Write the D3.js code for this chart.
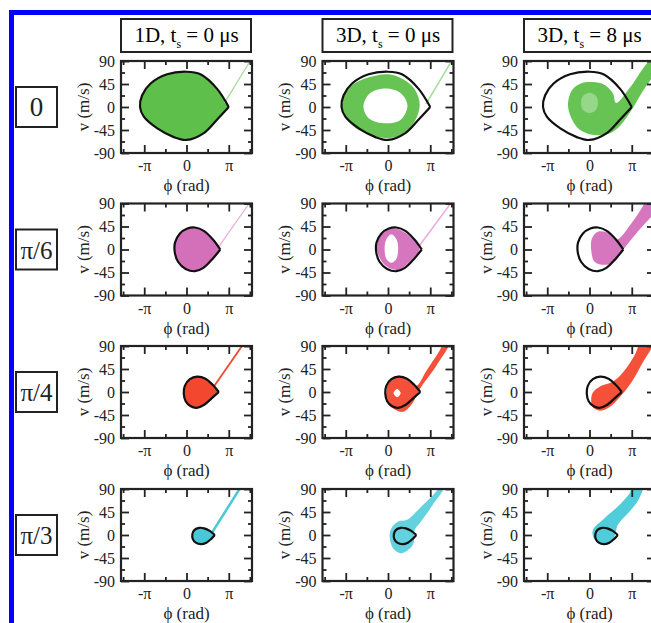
<!DOCTYPE html>
<html>
<head>
<meta charset="utf-8">
<script src="https://cdn.jsdelivr.net/npm/d3@7"></script>
<style>
	body { margin: 0; background: #fff; }
	svg { display: block; font-family: "Liberation Serif", "Times New Roman", serif; }
</style>
</head>
<body>
<script>
// rows = tilt of the washboard, columns = model / start time
const rowLabels = ['0', 'π/6', 'π/4', 'π/3'];
const titleHead = ['1D, t', '3D, t', '3D, t'];
const titleTail = [' = 0 μs', ' = 0 μs', ' = 8 μs'];
const rowColors = ['#5ec04b', '#d46fba', '#f4472f', '#48c9d8'];
const rowLight = ['#a3dc96', '#e9acd9', '#f7806f', '#7fd8e3'];

// phase in units of pi, velocity in m/s
const xMajorTicks = [-1, 0, 1];
const xMinorTicks = [-1.5, -0.5, 0.5, 1.5];
const xTickLabels = ['-π', '0', 'π'];
const yMajorTicks = [-90, -45, 0, 45, 90];
const yMinorTicks = [-67.5, -22.5, 22.5, 67.5];

// separatrix, starts and ends at the cusp
const separatrix = [
	[[1.0, 0], [0.72, 36], [0.33, 64], [0, 69], [-0.46, 64], [-0.85, 46], [-1.05, 23], [-1.10, 0], [-1.01, -19], [-0.69, -42], [-0.30, -59], [0, -64.5], [0.41, -51], [0.72, -25], [1.0, 0]],
	[[0.80, 0], [0.62, 20], [0.42, 36], [0.2, 43], [0.02, 41], [-0.16, 31], [-0.27, 14], [-0.28, -4], [-0.2, -24], [-0.02, -38], [0.2, -42.5], [0.4, -36], [0.62, -18], [0.80, 0]],
	[[0.765, 0], [0.62, 14], [0.45, 26], [0.25, 30], [0.08, 25], [-0.04, 12], [-0.065, -3], [-0.02, -18], [0.1, -28], [0.24, -31], [0.42, -25], [0.6, -12], [0.765, 0]],
	[[0.67, 0], [0.55, 8], [0.42, 13], [0.3, 14], [0.19, 10], [0.14, 2], [0.15, -8], [0.22, -15], [0.34, -18], [0.47, -15], [0.58, -8], [0.67, 0]]
];

// 1D: escaping trajectory leaving near the cusp
const escape1D = [
	[[0.9, 8], [1.52, 92]],
	[[0.76, 5], [1.5, 92]],
	[[0.64, 10], [1.33, 92]],
	[[0.6, 4], [1.27, 92]]
];
const escapeWidth = [1.2, 1.2, 1.8, 2.5];

// 3D, ts = 0 us
const cloud3D0 = [
	[[0, 64], [0.35, 55], [0.62, 36], [0.75, 5], [0.62, -30], [0.35, -53], [0, -61], [-0.4, -55], [-0.8, -39], [-1.07, -10], [-1.07, 15], [-0.87, 41], [-0.45, 58]],
	[[-0.26, 0.3], [-0.16, 28.4], [0.12, 41.4], [0.43, 31.7], [0.67, 12], [0.75, 0.3], [0.55, -20.5], [0.24, -40], [-0.08, -30]],
	[[-0.04, -1], [0.04, 23.8], [0.28, 31.7], [0.51, 21.9], [0.67, 12], [0.91, 41.5], [1.22, 80.6], [1.32, 96], [1.45, 96], [1.14, 51], [0.75, 5.5], [0.59, -20.5], [0.355, -38.8], [0.08, -30], [-0.04, -17]],
	[[0.08, 13.3], [0.24, 26.4], [0.45, 29.7], [0.75, 52.4], [1.14, 85], [1.21, 96], [1.34, 96], [1.06, 59], [0.75, 23], [0.63, 10], [0.59, -19], [0.32, -35.6], [0.12, -25.8], [0.04, -3]]
];
const hole3D0 = [
	[[-0.05, 36], [0.3, 27], [0.46, 3], [0.3, -25], [-0.05, -32], [-0.44, -23], [-0.58, 0], [-0.44, 26]],
	[[0.08, 30], [0.2, 20], [0.24, 2], [0.2, -18], [0.08, -26], [-0.04, -18], [-0.08, 2], [-0.04, 20]],
	[[0.22, 6], [0.3, -2], [0.22, -10], [0.13, -2]],
	[]
];
const escape3D0 = [
	[[0.9, 6], [1.52, 92]],
	[[0.72, 5], [1.5, 92]],
	[],
	[]
];

// 3D, ts = 8 us
const cloud3D8 = [
	[[-0.04, 48.9], [0.32, 45], [0.55, 27.4], [0.63, 7.8], [0.95, 37], [1.22, 70], [1.38, 88], [1.45, 96], [1.6, 96], [1.6, 76], [1.26, 30.7], [0.95, -11.7], [0.67, -41], [0.43, -52.8], [0.12, -55], [-0.24, -44], [-0.43, -21.5], [-0.51, 4.5], [-0.43, 30.7], [-0.27, 43.6]],
	[[0.2, 34.8], [0.47, 31.7], [0.63, 18.6], [0.99, 51], [1.26, 84], [1.34, 96], [1.6, 96], [1.6, 80.6], [1.14, 34.8], [0.79, -1], [0.59, -23.8], [0.35, -30], [0.12, -23.8], [0.04, -1], [0.06, 21.9]],
	[[0.04, -17.3], [0.08, -1], [0.28, 12], [0.55, 20], [0.79, 38], [1.06, 70.8], [1.22, 96], [1.5, 96], [1.26, 57.7], [0.99, 18.6], [0.71, -10.8], [0.47, -30], [0.24, -36.8], [0.08, -30]],
	[[0.08, 10], [0.355, 33], [0.67, 55.8], [0.95, 81.8], [1.03, 96], [1.26, 96], [1.18, 72], [0.95, 46], [0.67, 20], [0.59, -3], [0.43, -16], [0.24, -17], [0.10, -6]]
];
const hole3D8 = [
	[[0, 28], [0.15, 22], [0.2, 8], [0.15, -6], [0, -12], [-0.15, -6], [-0.2, 8], [-0.15, 22]],
	[], [], []
];

const colLeft = [121, 322.5, 524];
const rowTop = [61, 203.5, 346, 489];
const plotW = 131, plotH = 92;

const svg = d3.select('body').append('svg')
	.attr('width', 651)
	.attr('height', 623);

svg.append('rect')
	.attr('x', 11.5).attr('y', 12.5)
	.attr('width', 720).attr('height', 700)
	.attr('fill', 'none')
	.attr('stroke', '#0000ff')
	.attr('stroke-width', 5);

const x = d3.scaleLinear().domain([-1.55, 1.55]).range([0, plotW]);
const y = d3.scaleLinear().domain([-90, 90]).range([plotH, 0]);

const closed = d3.line().x(d => x(d[0])).y(d => y(d[1])).curve(d3.curveCatmullRomClosed.alpha(0.5));
const open = d3.line().x(d => x(d[0])).y(d => y(d[1])).curve(d3.curveCatmullRom.alpha(0.5));
const straight = d3.line().x(d => x(d[0])).y(d => y(d[1]));

// column titles
titleHead.forEach((head, c) => {
	let g = svg.append('g').attr('transform', `translate(${colLeft[c]},19)`);
	g.append('rect')
		.attr('width', plotW - 1).attr('height', 33)
		.attr('fill', '#fff').attr('stroke', '#222').attr('stroke-width', 2);
	let t = g.append('text')
		.attr('x', plotW / 2).attr('y', 23)
		.attr('text-anchor', 'middle')
		.attr('font-size', 21);
	t.append('tspan').text(head);
	t.append('tspan').attr('dy', 6).attr('font-size', 12).text('s');
	t.append('tspan').attr('dy', -6).text(titleTail[c]);
});

function drawAxes(g) {
	let style = sel => {
		sel.select('.domain').remove();
		sel.attr('font-family', null).attr('font-size', 16);
		sel.selectAll('line').attr('stroke', '#222').attr('stroke-width', 1.8);
		sel.selectAll('text').attr('fill', '#222');
	};
	let bottom = g.append('g').attr('transform', `translate(0,${plotH})`);
	bottom.call(d3.axisBottom(x).tickValues(xMinorTicks).tickSize(-4).tickFormat('')).call(style);
	bottom.append('g').call(d3.axisBottom(x).tickValues(xMajorTicks).tickSize(-8).tickPadding(7)
		.tickFormat(d => xTickLabels[xMajorTicks.indexOf(d)])).call(style);
	let top = g.append('g');
	top.call(d3.axisTop(x).tickValues(xMinorTicks).tickSize(-4).tickFormat('')).call(style);
	top.append('g').call(d3.axisTop(x).tickValues(xMajorTicks).tickSize(-8).tickFormat('')).call(style);
	let left = g.append('g');
	left.call(d3.axisLeft(y).tickValues(yMinorTicks).tickSize(-4).tickFormat('')).call(style);
	left.append('g').call(d3.axisLeft(y).tickValues(yMajorTicks).tickSize(-8).tickPadding(6)
		.tickFormat(d => String(d))).call(style);
	let right = g.append('g').attr('transform', `translate(${plotW},0)`);
	right.call(d3.axisRight(y).tickValues(yMinorTicks).tickSize(-4).tickFormat('')).call(style);
	right.append('g').call(d3.axisRight(y).tickValues(yMajorTicks).tickSize(-8).tickFormat('')).call(style);

	g.append('rect')
		.attr('width', plotW).attr('height', plotH)
		.attr('fill', 'none').attr('stroke', '#222').attr('stroke-width', 2.2);

	g.append('text')
		.attr('x', plotW / 2).attr('y', plotH + 38)
		.attr('text-anchor', 'middle')
		.attr('font-size', 17).attr('fill', '#222')
		.text('ϕ (rad)');
	g.append('text')
		.attr('transform', `translate(-38,${plotH / 2}) rotate(-90)`)
		.attr('text-anchor', 'middle')
		.attr('dy', '0.35em')
		.attr('font-size', 17).attr('fill', '#222')
		.text('v (m/s)');
}

rowLabels.forEach((label, r) => {
	let cy = rowTop[r] + plotH / 2;
	svg.append('rect')
		.attr('x', 16).attr('y', cy - 20)
		.attr('width', 41).attr('height', 40)
		.attr('fill', '#fff').attr('stroke', '#222').attr('stroke-width', 2);
	svg.append('text')
		.attr('x', 36.5).attr('y', cy + 9)
		.attr('text-anchor', 'middle')
		.attr('font-size', r === 0 ? 27 : 25)
		.attr('fill', '#222')
		.text(label);

	colLeft.forEach((left, c) => {
		let g = svg.append('g').attr('transform', `translate(${left},${rowTop[r]})`);
		let clipId = `clip-${r}-${c}`;
		g.append('clipPath').attr('id', clipId)
			.append('rect').attr('width', plotW).attr('height', plotH);
		let plot = g.append('g').attr('clip-path', `url(#${clipId})`);

		if (c === 0) {
			plot.append('path')
				.attr('d', open(separatrix[r]) + 'Z')
				.attr('fill', rowColors[r]);
			plot.append('path')
				.attr('d', straight(escape1D[r]))
				.attr('fill', 'none')
				.attr('stroke', r < 2 ? rowLight[r] : rowColors[r])
				.attr('stroke-width', escapeWidth[r]);
		} else {
			let cloud = c === 1 ? cloud3D0 : cloud3D8;
			let hole = c === 1 ? hole3D0 : hole3D8;
			plot.append('path')
				.attr('d', closed(cloud[r]))
				.attr('fill', rowColors[r])
				.attr('fill-opacity', c === 1 && r === 3 ? 0.85 : 0.95);
			if (hole[r].length)
				plot.append('path')
					.attr('d', closed(hole[r]))
					.attr('fill', c === 1 ? '#fff' : rowLight[r])
					.attr('fill-opacity', c === 1 ? 1 : 0.8);
			if (c === 1 && escape3D0[r].length)
				plot.append('path')
					.attr('d', straight(escape3D0[r]))
					.attr('fill', 'none')
					.attr('stroke', rowLight[r])
					.attr('stroke-width', 1.5);
		}

		plot.append('path')
			.attr('d', open(separatrix[r]))
			.attr('fill', 'none')
			.attr('stroke', '#111')
			.attr('stroke-width', 2.2)
			.attr('stroke-linejoin', 'miter');

		drawAxes(g);
	});
});
</script>
</body>
</html>
